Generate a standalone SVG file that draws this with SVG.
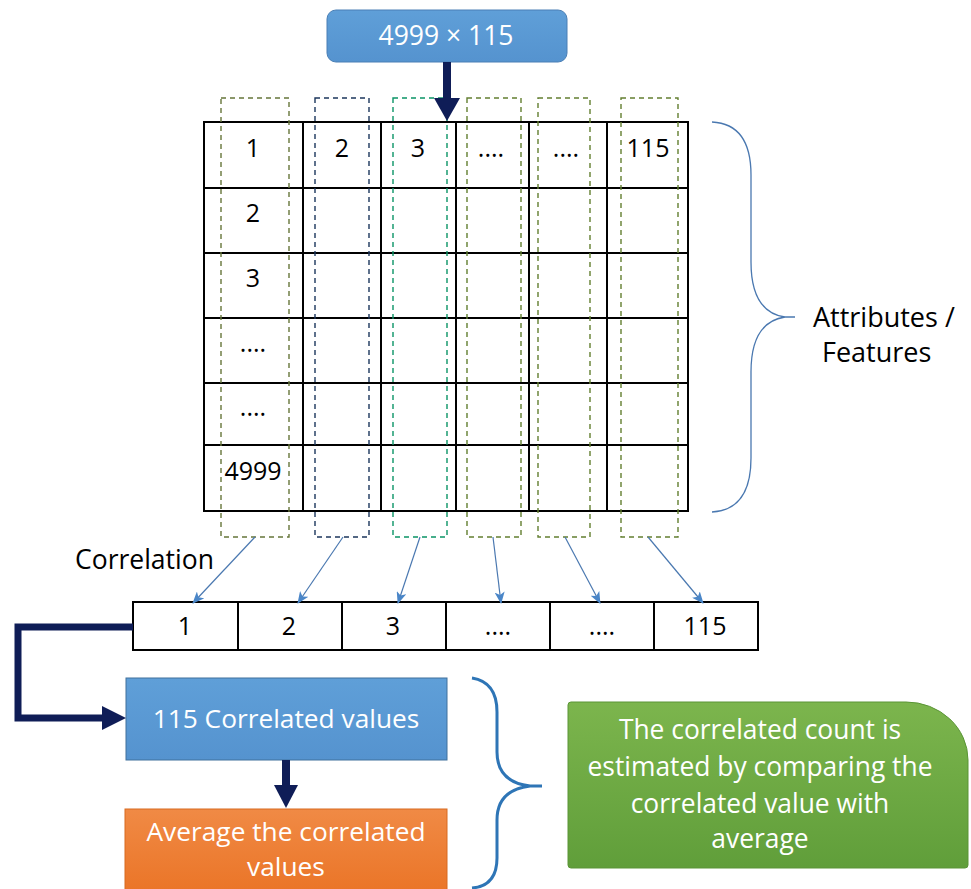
<svg xmlns="http://www.w3.org/2000/svg" width="971" height="889" viewBox="0 0 971 889">
<style>
  text { font-family: "Open Sans", "Liberation Sans", sans-serif; }
  .num { font-size: 25px; fill: #000; text-anchor: middle; }
  .lbl { font-size: 26.5px; fill: #000; }
  .wt { fill: #fff; text-anchor: middle; font-size: 26.5px; }
  .grid { fill: none; stroke: #000; stroke-width: 2; }
  .dash { fill: none; stroke-width: 1.4; stroke-dasharray: 5 4; }
  .corr { fill: none; stroke: #4a78b0; stroke-width: 1.2; marker-end: url(#blueHead); }
  .head { fill: #0f1d57; }
  .thick { fill: none; stroke: #0f1d57; stroke-width: 7; }
</style>
<defs>
  <marker id="blueHead" markerWidth="12" markerHeight="10" refX="11" refY="5" orient="auto" markerUnits="userSpaceOnUse">
    <path d="M0,0 L12,5 L0,10 L3,5 Z" fill="#4a86c8"/>
  </marker>
  <linearGradient id="gGreen" x1="0" y1="0" x2="0" y2="1">
    <stop offset="0" stop-color="#7cb54d"/>
    <stop offset="1" stop-color="#609e3a"/>
  </linearGradient>
  <linearGradient id="gOrange" x1="0" y1="0" x2="0" y2="1">
    <stop offset="0" stop-color="#f08a45"/>
    <stop offset="1" stop-color="#ea7325"/>
  </linearGradient>
  <linearGradient id="gBlue" x1="0" y1="0" x2="0" y2="1">
    <stop offset="0" stop-color="#5f9fd8"/>
    <stop offset="1" stop-color="#5593cf"/>
  </linearGradient>
</defs>

<g id="dims">
  <rect x="327" y="10" width="240" height="52" rx="9" fill="url(#gBlue)" stroke="#4a7fb5" stroke-width="1"/>
  <text class="wt" x="446" y="45">4999 × 115</text>
</g>

<g id="matrix">
  <rect class="grid" x="204" y="122" width="484" height="389"/>
  <path class="grid" d="M303,122V511 M381,122V511 M456,122V511 M529,122V511 M607,122V511 M204,188H688 M204,253H688 M204,318H688 M204,383H688 M204,445H688"/>
  <text class="num" x="253" y="157">1</text>
  <text class="num" x="342" y="157">2</text>
  <text class="num" x="418" y="157">3</text>
  <text class="num" x="491" y="157">....</text>
  <text class="num" x="566" y="157">....</text>
  <text class="num" x="648" y="157">115</text>
  <text class="num" x="253" y="222">2</text>
  <text class="num" x="253" y="287">3</text>
  <text class="num" x="253" y="352">....</text>
  <text class="num" x="253" y="416">....</text>
  <text class="num" x="253" y="480">4999</text>
</g>

<g id="columns">
  <rect class="dash" x="221" y="98" width="68" height="439" stroke="#66763a"/>
  <rect class="dash" x="315" y="98" width="54" height="439" stroke="#1c365c"/>
  <rect class="dash" x="393" y="98" width="54" height="439" stroke="#0a9466"/>
  <rect class="dash" x="467" y="98" width="54" height="439" stroke="#637f30"/>
  <rect class="dash" x="538" y="98" width="52" height="439" stroke="#637f30"/>
  <rect class="dash" x="621" y="98" width="57" height="439" stroke="#637f30"/>
</g>

<g id="attributes-brace">
  <path d="M712,122 Q751,124 751,175 L751,262 Q751,312 785,317 L795,317 M785,317 Q751,322 751,372 L751,458 Q751,510 712,512" fill="none" stroke="#4a78b0" stroke-width="1.3"/>
  <text class="lbl" x="813" y="327" style="font-size:27px">Attributes /</text>
  <text class="lbl" x="822" y="362" style="font-size:27px">Features</text>
</g>

<g id="correlation-label">
  <text class="lbl" x="75" y="569">Correlation</text>
</g>

<g id="corr-row">
  <rect class="grid" x="133" y="602" width="625" height="48"/>
  <path class="grid" d="M238,602V650 M342,602V650 M446,602V650 M550,602V650 M654,602V650"/>
  <text class="num" x="185" y="635">1</text>
  <text class="num" x="289" y="635">2</text>
  <text class="num" x="393" y="635">3</text>
  <text class="num" x="498" y="635">....</text>
  <text class="num" x="602" y="635">....</text>
  <text class="num" x="705" y="635">115</text>
</g>

<g id="correlated-values">
  <rect x="126" y="678" width="321" height="82" fill="url(#gBlue)" stroke="#41719c" stroke-width="1"/>
  <text class="wt" x="286" y="728" style="font-size:26.3px">115 Correlated values</text>
</g>

<g id="average">
  <rect x="125" y="809" width="322" height="90" fill="url(#gOrange)" stroke="#d86a20" stroke-width="1"/>
  <text class="wt" x="286" y="841" style="font-size:26.3px">Average the correlated</text>
  <text class="wt" x="286" y="876" style="font-size:26.3px">values</text>
</g>

<g id="summary-brace">
  <path d="M472,678 Q497,682 497,712 L497,752 Q497,782 530,786 L542,786 M530,786 Q497,790 497,820 L497,858 Q497,886 472,888" fill="none" stroke="#2e75b6" stroke-width="3"/>
</g>

<g id="estimate">
  <path d="M571,702 H906 A62,58 0 0 1 968,760 V865 Q968,868 965,868 H571 Q568,868 568,865 V705 Q568,702 571,702 Z" fill="url(#gGreen)" stroke="#5a9536" stroke-width="1"/>
  <text class="wt" x="760" y="739" style="font-size:26.4px">The correlated count is</text>
  <text class="wt" x="760" y="776" style="font-size:26.4px">estimated by comparing the</text>
  <text class="wt" x="760" y="813" style="font-size:26.4px">correlated value with</text>
  <text class="wt" x="760" y="848" style="font-size:26.4px">average</text>
</g>

<g id="connectors">
  <rect x="443" y="62" width="8" height="37" class="head"/>
  <polygon class="head" points="434,98 460,98 447,121"/>
  <path class="corr" d="M255,537 L193,603"/>
  <path class="corr" d="M343,537 L298,603"/>
  <path class="corr" d="M420,537 L398,603"/>
  <path class="corr" d="M493,537 L501,603"/>
  <path class="corr" d="M565,537 L600,603"/>
  <path class="corr" d="M648,537 L703,603"/>
  <path class="thick" d="M133,627 H18 V718 H104"/>
  <polygon class="head" points="102,706 126,718 102,730"/>
  <rect x="282" y="760" width="8" height="26" class="head"/>
  <polygon class="head" points="274,785 298,785 286,808"/>
</g>
</svg>
